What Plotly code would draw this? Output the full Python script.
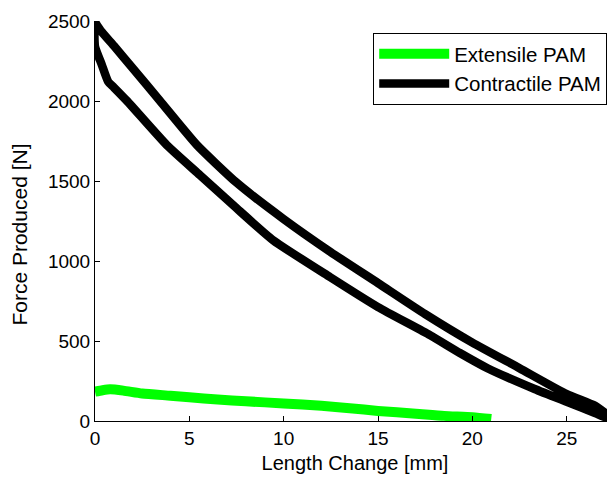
import plotly.graph_objects as go

# Extensile PAM (green)
ext_x = [0, 0.4, 0.8, 1.5, 2.5, 4, 5, 6.5, 8, 10, 12, 13.5, 15, 17, 18.5, 20, 21]
ext_f = [183, 192, 198, 190, 172, 158, 148, 135, 123, 110, 95, 80, 63, 46, 32, 24, 12]

# Contractile PAM (black) - loading (upper) branch
con_x_upper = [0, 0.3, 1, 2, 3.45, 5.4, 7.5, 10, 12.5, 15, 17.5, 20, 22.5, 25, 26.5, 27.6]
con_f_upper = [2490, 2440, 2345, 2205, 2000, 1725, 1490, 1262, 1055, 862, 668, 490, 330, 168, 95, 0]

# Contractile PAM (black) - unloading (lower) branch
con_x_lower = [0, 0.35, 0.7, 1.0, 1.7, 3.8, 5.56, 7.5, 9.43, 12.45, 15, 17.75, 19.34, 20.8, 23.3, 25, 26.5, 27.6]
con_f_lower = [2340, 2230, 2120, 2085, 2000, 1725, 1537, 1330, 1131, 900, 712, 537, 425, 330, 200, 120, 50, -5]

x_ticks = [0, 5, 10, 15, 20, 25]
y_ticks = [0, 500, 1000, 1500, 2000, 2500]

x_title = "Length Change [mm]"
y_title = "Force Produced [N]"

con_x = con_x_lower[::-1] + con_x_upper
con_f = con_f_lower[::-1] + con_f_upper

FONT = "Liberation Sans, Arial, Helvetica, sans-serif"

fig = go.Figure()
fig.add_trace(go.Scatter(x=ext_x, y=ext_f, mode="lines", name="Extensile PAM",
                         legendgroup="a",
                         line=dict(color="#00ff00", width=10, shape="spline", smoothing=0.6)))
fig.add_trace(go.Scatter(x=con_x, y=con_f, mode="lines", name="Contractile PAM",
                         legendgroup="b",
                         line=dict(color="#000000", width=8.5, shape="spline", smoothing=0.5)))

# page body has an 8px margin, so the figure is sized/offset to compensate
fig.update_layout(
    width=607, height=469,
    margin=dict(l=87, r=0, t=13, b=56, autoexpand=False),
    paper_bgcolor="white", plot_bgcolor="white",
    font=dict(family=FONT, size=19, color="black"),
    showlegend=True,
    legend=dict(x=0.535, y=0.97, xanchor="left", yanchor="top",
                bgcolor="white", bordercolor="black", borderwidth=1,
                font=dict(size=20.5), itemwidth=70, tracegroupgap=0,
                traceorder="grouped"),
    xaxis=dict(range=[0, 27.56], tickvals=x_ticks, ticks="inside", ticklen=5,
               tickcolor="black", showline=True, linecolor="black", linewidth=1,
               showgrid=False, zeroline=False, mirror=False, automargin=False,
               title=dict(text=x_title, font=dict(size=20), standoff=8)),
    yaxis=dict(range=[0, 2500], tickvals=y_ticks, ticks="inside", ticklen=5,
               tickcolor="black", showline=True, linecolor="black", linewidth=1,
               showgrid=False, zeroline=False, mirror=False, automargin=False),
    annotations=[dict(text=y_title, textangle=-90, xref="paper", yref="paper",
                      x=-0.145, y=0.465, xanchor="center", yanchor="middle",
                      showarrow=False, font=dict(size=21))],
)

fig.write_html("out.html")
